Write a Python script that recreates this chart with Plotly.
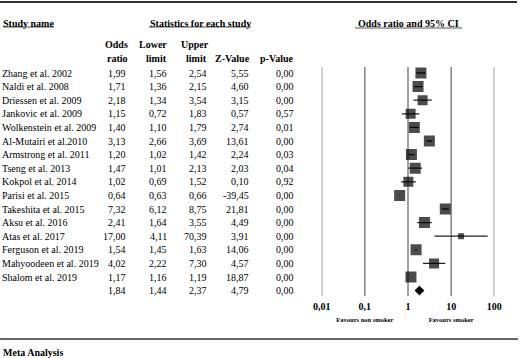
import plotly.graph_objects as go

studies = ["Zhang et al. 2002", "Naldi et al. 2008", "Driessen et al. 2009", "Jankovic et al. 2009",
           "Wolkenstein et al. 2009", "Al-Mutairi et al.2010", "Armstrong et al. 2011", "Tseng et al. 2013",
           "Kokpol et al. 2014", "Parisi et al. 2015", "Takeshita et al. 2015", "Aksu et al. 2016",
           "Atas et al. 2017", "Ferguson et al. 2019", "Mahyoodeen et al. 2019", "Shalom et al. 2019"]
odds_ratio = [1.99, 1.71, 2.18, 1.15, 1.40, 3.13, 1.20, 1.47, 1.02, 0.64, 7.32, 2.41, 17.00, 1.54, 4.02, 1.17]
lower = [1.56, 1.36, 1.34, 0.72, 1.10, 2.66, 1.02, 1.01, 0.69, 0.63, 6.12, 1.64, 4.11, 1.45, 2.22, 1.16]
upper = [2.54, 2.15, 3.54, 1.83, 1.79, 3.69, 1.42, 2.13, 1.52, 0.66, 8.75, 3.55, 70.39, 1.63, 7.30, 1.19]
z_value = [5.55, 4.60, 3.15, 0.57, 2.74, 13.61, 2.24, 2.03, 0.10, -39.45, 21.81, 4.49, 3.91, 14.06, 4.57, 18.87]
p_value = [0.00, 0.00, 0.00, 0.57, 0.01, 0.00, 0.03, 0.04, 0.92, 0.00, 0.00, 0.00, 0.00, 0.00, 0.00, 0.00]
summary = {"or": 1.84, "lower": 1.44, "upper": 2.37, "z": 4.79, "p": 0.00}
tick_values = [0.01, 0.1, 1, 10, 100]
tick_labels = ["0,01", "0,1", "1", "10", "100"]

# styling (marker pixel sizes, as drawn)
marker_px = [11, 11, 10, 10, 11, 11, 11, 11, 10, 11, 11, 11, 6, 11, 10, 11]

W, H = 520, 358
FONT = "Liberation Serif, 'Times New Roman', Times, serif"
row0, row_step = 73, 13.6
rows = [row0 + row_step * i for i in range(len(studies))]
sum_row = row0 + row_step * len(studies)


def fmt(v):
    return f"{v:.2f}".replace(".", ",")


fig = go.Figure()

# vertical reference lines of the forest plot
vx, vy = [], []
for t in tick_values:
    vx += [t, t, None]
    vy += [67, 296, None]
fig.add_trace(go.Scatter(x=vx, y=vy, mode="lines", line=dict(color="#6f6f6f", width=1.3),
                         hoverinfo="skip", cliponaxis=False))

# confidence interval lines
cx, cy = [], []
for lo, hi, r in zip(lower, upper, rows):
    cx += [lo, hi, None]
    cy += [r, r, None]
fig.add_trace(go.Scatter(x=cx, y=cy, mode="lines", line=dict(color="#222222", width=1.3),
                         hoverinfo="skip"))

# study squares
fig.add_trace(go.Scatter(x=odds_ratio, y=rows, mode="markers",
                         marker=dict(symbol="square", size=marker_px, color="black",
                                     line=dict(width=0))))

# summary diamond
fig.add_trace(go.Scatter(x=[summary["lower"], summary["or"], summary["upper"], summary["or"], summary["lower"]],
                         y=[sum_row, sum_row - 4.5, sum_row, sum_row + 4.5, sum_row],
                         mode="lines", fill="toself", fillcolor="black",
                         line=dict(color="black", width=0.5)))

# tick labels
fig.add_trace(go.Scatter(x=tick_values, y=[307] * len(tick_values), mode="text",
                         text=[f"<b>{t}</b>" for t in tick_labels], cliponaxis=False,
                         textfont=dict(family=FONT, size=10, color="black")))
fig.add_trace(go.Scatter(x=[0.1, 10], y=[320, 320], mode="text", cliponaxis=False,
                         text=["<b>Favours non smoker</b>", "<b>Favours smoker</b>"],
                         textfont=dict(family=FONT, size=6.5, color="black")))

ann = []


def txt(x, y, s, anchor="right", size=10, bold=False):
    ann.append(dict(x=x / W, y=y, xref="paper", yref="y", text=f"<b>{s}</b>" if bold else s,
                    showarrow=False, xanchor=anchor, yanchor="middle",
                    font=dict(family=FONT, size=size, color="black")))


# headers
txt(1, 23, "Study name", anchor="left", bold=True)
txt(200, 23, "Statistics for each study", anchor="center", bold=True)
txt(408.5, 23, "Odds ratio and 95% CI", anchor="center", bold=True)
txt(130, 44, "Odds", bold=True)
txt(130, 58, "ratio", bold=True)
txt(169, 44, "Lower", bold=True)
txt(169, 58, "limit", bold=True)
txt(179, 44, "Upper", anchor="left", bold=True)
txt(209, 58, "limit", bold=True)
txt(252, 58, "Z-Value", bold=True)
txt(258, 58, "p-Value", anchor="left", bold=True)
txt(1, 352, "Meta Analysis", anchor="left", bold=True)

cols = [(128, odds_ratio), (169, lower), (209, upper), (251, z_value), (296, p_value)]
for i, r in enumerate(rows):
    txt(0, r, studies[i], anchor="left")
    for xr, arr in cols:
        txt(xr, r, fmt(arr[i]))
for xr, key in zip([128, 169, 209, 251, 296], ["or", "lower", "upper", "z", "p"]):
    txt(xr, sum_row, fmt(summary[key]))

shapes = [
    dict(type="line", xref="paper", yref="y", x0=0, x1=517 / W, y0=2, y1=2,
         line=dict(color="#333333", width=2)),
    dict(type="line", xref="paper", yref="y", x0=0, x1=518 / W, y0=339, y1=339,
         line=dict(color="#333333", width=1.6)),
    dict(type="line", xref="paper", yref="y", x0=3 / W, x1=54 / W, y0=27, y1=27,
         line=dict(color="#555555", width=1)),
    dict(type="line", xref="paper", yref="y", x0=149 / W, x1=251 / W, y0=27, y1=27,
         line=dict(color="#555555", width=1)),
    dict(type="line", xref="paper", yref="y", x0=355 / W, x1=462 / W, y0=28, y1=28,
         line=dict(color="#555555", width=1)),
]

fig.update_layout(
    width=W, height=H, margin=dict(l=0, r=0, t=0, b=0),
    paper_bgcolor="white", plot_bgcolor="white", showlegend=False,
    annotations=ann, shapes=shapes,
    font=dict(family=FONT, color="black"),
    xaxis=dict(type="log", range=[-2, 2], domain=[321.7 / W, 494.3 / W], visible=False),
    yaxis=dict(range=[H, 0], domain=[0, 1], visible=False),
)

fig.write_html("out.html", config={"displayModeBar": False},
               post_script="document.body.style.margin='0';document.body.style.overflow='hidden';")
